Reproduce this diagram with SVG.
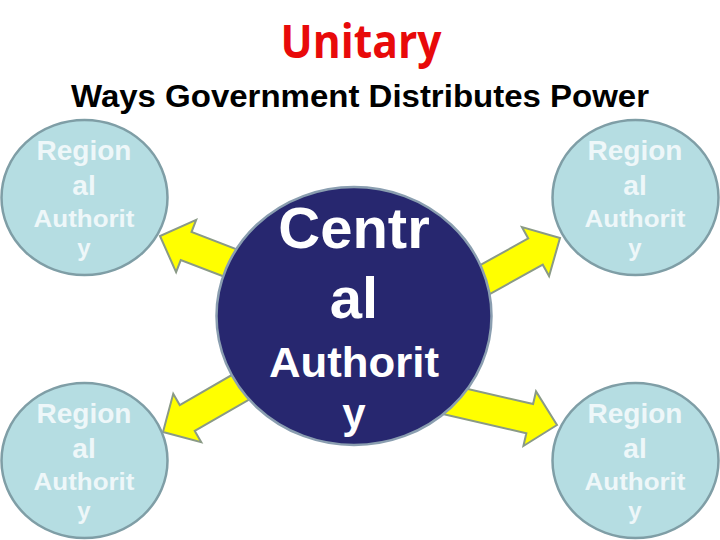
<svg xmlns="http://www.w3.org/2000/svg" width="720" height="540" viewBox="0 0 720 540">
  <defs>
    <style>
      .sat { fill: #b5dde2; stroke: #7f9ea6; stroke-width: 2.5; }
      .satText { font-family: "Liberation Sans", Arial, sans-serif; font-weight: bold; fill: #eef7f9; text-anchor: middle; }
      .big { font-size: 28px; }
      .small { font-size: 24px; }
      .central { fill: #27276f; stroke: #8a9eb0; stroke-width: 2.5; }
      .cenText { font-family: "Liberation Sans", Arial, sans-serif; font-weight: bold; fill: #ffffff; text-anchor: middle; }
      .arrow { fill: #ffff00; stroke: #8a9a86; stroke-width: 2; stroke-linejoin: miter; }
    </style>
    <polygon id="blockArrow" points="0,0 -28,-28 -28,-15 -135,-15 -135,15 -28,15 -28,28"/>
  </defs>

  <rect x="0" y="0" width="720" height="540" fill="#ffffff"/>

  <g id="title">
    <text x="361" y="58" font-family="'Open Sans', 'Noto Sans', sans-serif" font-weight="bold" font-size="46" fill="#e80a0a" text-anchor="middle" textLength="161" lengthAdjust="spacingAndGlyphs">Unitary</text>
    <text x="360" y="107" font-family="'Liberation Sans', Arial, sans-serif" font-weight="bold" font-size="32" fill="#000000" text-anchor="middle" textLength="578" lengthAdjust="spacingAndGlyphs">Ways Government Distributes Power</text>
  </g>

  <g id="connectors">
    <use href="#blockArrow" class="arrow" transform="translate(160,236) rotate(-159)"/>
    <use href="#blockArrow" class="arrow" transform="translate(560,238) rotate(-29)"/>
    <use href="#blockArrow" class="arrow" transform="translate(557,425) rotate(13)"/>
    <use href="#blockArrow" class="arrow" transform="translate(163,432) rotate(150)"/>
  </g>

  <g id="central">
    <ellipse class="central" cx="354" cy="316" rx="137.5" ry="129"/>
    <text class="cenText" x="354" y="248" font-size="58">Centr</text>
    <text class="cenText" x="354" y="318" font-size="58">al</text>
    <text class="cenText" x="354" y="377" font-size="42" textLength="170" lengthAdjust="spacingAndGlyphs">Authorit</text>
    <text class="cenText" x="354" y="428" font-size="42">y</text>
  </g>

  <g id="regional-top-left">
    <ellipse class="sat" cx="84.5" cy="197.5" rx="83" ry="77.5"/>
    <text class="satText big" x="84" y="160">Region</text>
    <text class="satText big" x="84" y="195">al</text>
    <text class="satText small" x="84" y="227" textLength="101" lengthAdjust="spacingAndGlyphs">Authorit</text>
    <text class="satText small" x="84" y="256">y</text>
  </g>

  <g id="regional-top-right">
    <ellipse class="sat" cx="635.5" cy="197.5" rx="83" ry="77.5"/>
    <text class="satText big" x="635" y="160">Region</text>
    <text class="satText big" x="635" y="195">al</text>
    <text class="satText small" x="635" y="227" textLength="101" lengthAdjust="spacingAndGlyphs">Authorit</text>
    <text class="satText small" x="635" y="256">y</text>
  </g>

  <g id="regional-bottom-left">
    <ellipse class="sat" cx="84.5" cy="460.5" rx="83" ry="77.5"/>
    <text class="satText big" x="84" y="423">Region</text>
    <text class="satText big" x="84" y="458">al</text>
    <text class="satText small" x="84" y="490" textLength="101" lengthAdjust="spacingAndGlyphs">Authorit</text>
    <text class="satText small" x="84" y="519">y</text>
  </g>

  <g id="regional-bottom-right">
    <ellipse class="sat" cx="635.5" cy="460.5" rx="83" ry="77.5"/>
    <text class="satText big" x="635" y="423">Region</text>
    <text class="satText big" x="635" y="458">al</text>
    <text class="satText small" x="635" y="490" textLength="101" lengthAdjust="spacingAndGlyphs">Authorit</text>
    <text class="satText small" x="635" y="519">y</text>
  </g>
</svg>
